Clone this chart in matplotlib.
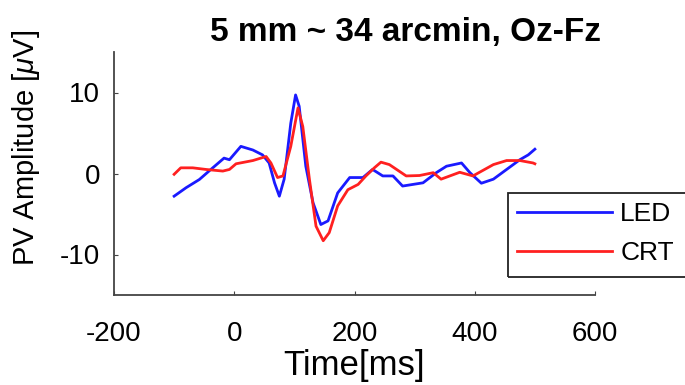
import numpy as np
import matplotlib
matplotlib.use("Agg")
import matplotlib.pyplot as plt
from matplotlib.patches import Rectangle

plt.rcParams['font.family'] = ['Liberation Sans', 'DejaVu Sans']
plt.rcParams['mathtext.fontset'] = 'custom'
plt.rcParams['mathtext.it'] = 'Liberation Sans:italic'
plt.rcParams['axes.unicode_minus'] = False

# LED trace (time in ms, amplitude in uV)
led_t = [-100, -80, -58, -42, -17, -8, 11, 31, 47, 58, 67, 75, 83, 94, 102, 108,
         119, 131, 144, 156, 172, 192, 214, 230, 247, 264, 280, 297, 314, 336,
         353, 378, 392, 411, 431, 453, 475, 489, 500]
led_v = [-2.8, -1.75, -0.74, 0.3, 1.9, 1.7, 3.35, 2.9, 2.3, 1.3, -1.15, -2.8, -0.7,
         6.2, 9.7, 8.3, 0.9, -3.6, -6.3, -5.85, -2.4, -0.5, -0.5, 0.5, -0.3, -0.3,
         -1.55, -1.35, -1.15, 0.1, 0.9, 1.3, 0.1, -1.2, -0.7, 0.5, 1.7, 2.3, 3.0]

# CRT trace
crt_t = [-100, -89, -69, -47, -19, -8, 3, 31, 53, 61, 72, 81, 94, 106, 114, 125,
         136, 148, 158, 172, 189, 206, 219, 233, 244, 258, 286, 308, 331, 344,
         375, 397, 431, 453, 475, 497, 500]
crt_v = [-0.1, 0.7, 0.7, 0.5, 0.3, 0.5, 1.2, 1.6, 2.1, 1.3, -0.5, -0.3, 3.35, 8.1,
         5.8, -0.7, -6.5, -8.3, -7.3, -4.0, -2.0, -1.35, -0.3, 0.7, 1.4, 1.1, -0.3,
         -0.25, 0.1, -0.7, 0.15, -0.3, 1.1, 1.6, 1.6, 1.3, 1.2]

xticks = [-200, 0, 200, 400, 600]
yticks = [-10, 0, 10]

fig = plt.figure(figsize=(6.85, 3.85), dpi=100)
ax = fig.add_axes([114/685, 1 - 295/385, 481/685, 243/385])

ax.plot(led_t, led_v, color='#1a1aff', lw=2.0, label='LED')
ax.plot(crt_t, crt_v, color='#ff2020', lw=2.0, label='CRT')

ax.set_xlim(-200, 600)
ax.set_ylim(-15, 15)
ax.set_xticks(xticks)
ax.set_yticks(yticks)
ax.tick_params(direction='in', length=3, labelsize=20, color='#444444')
ax.tick_params(axis='x', pad=19)
ax.tick_params(axis='y', pad=10)
for s in ['top', 'right']:
    ax.spines[s].set_visible(False)
for s in ['left', 'bottom']:
    ax.spines[s].set_color('#444444')
    ax.spines[s].set_linewidth(1.3)

ax.set_xlabel('Time[ms]', fontsize=25, labelpad=1)
ax.set_ylabel(r'PV Amplitude [$\mu$V]', fontsize=21, labelpad=8)
ax.yaxis.set_label_coords(-0.15, 0.607)
ax.set_title('5 mm ~ 34 arcmin, Oz-Fz', fontsize=24, fontweight='bold',
             x=0.607, pad=8)

leg = fig.legend(loc='upper left', bbox_to_anchor=(508/685, 1 - 193/385),
                 fontsize=19, frameon=False, handlelength=3.6,
                 handletextpad=0.3, borderpad=0.35, labelspacing=0.55,
                 borderaxespad=0)
# legend box runs past the right edge of the picture
fig.add_artist(Rectangle((508/685, 1 - 277/385), 200/685, 84/385,
                         transform=fig.transFigure, fill=False,
                         ec='#222222', lw=1.3))

fig.savefig('out.png', dpi=100)
